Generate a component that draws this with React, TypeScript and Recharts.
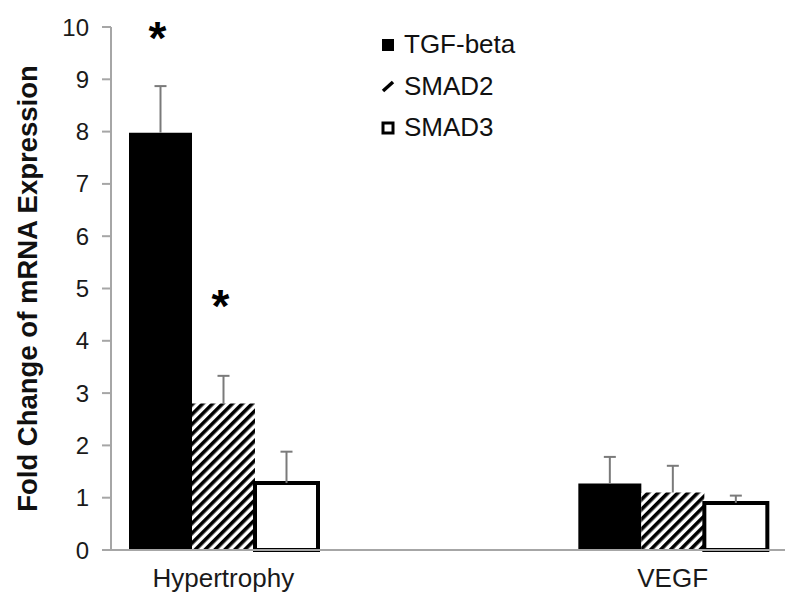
import { BarChart, Bar, XAxis, YAxis, LabelList } from 'recharts'

const FONT = '"Liberation Sans", Arial, sans-serif'

// the gap between the two groups is an empty category, as in the original sheet
const categories = ['Hypertrophy', '', 'VEGF']
const tgfBeta = [7.98, null, 1.27]
const smad2 = [2.8, null, 1.1]
const smad3 = [1.28, null, 0.9]
const tgfBetaErr = [0.89, null, 0.51]
const smad2Err = [0.53, null, 0.51]
const smad3Err = [0.6, null, 0.14]
// height (in fold units) of the significance asterisk, null = none
const tgfBetaStar = [9.9, null, null]
const smad2Star = [4.78, null, null]
const smad3Star = [null, null, null]
const yTicks = [0, 1, 2, 3, 4, 5, 6, 7, 8, 9, 10]

const data = categories.map((name, i) => ({
  name,
  tgf: tgfBeta[i],
  smad2: smad2[i],
  smad3: smad3[i],
}))

const series = [
  { key: 'tgf', name: 'TGF-beta', fill: '#000', stroke: 'none', values: tgfBeta, err: tgfBetaErr, star: tgfBetaStar },
  { key: 'smad2', name: 'SMAD2', fill: 'url(#hatch)', stroke: 'none', values: smad2, err: smad2Err, star: smad2Star },
  { key: 'smad3', name: 'SMAD3', fill: '#fff', stroke: '#000', values: smad3, err: smad3Err, star: smad3Star },
]

// upper error whisker + asterisk, placed from the bar's own geometry
const makeMarks = (values: (number | null)[], err: (number | null)[], star: (number | null)[]) => (props: any) => {
  const { x, y, width, height, value } = props
  if (value == null || !value) return null
  const i = values.indexOf(value)
  if (i < 0) return null
  const ppu = height / value
  const cx = x + width / 2
  const e = err[i]
  const s = star[i]
  const base = y + height
  return (
    <g>
      {e != null && (
        <g stroke="#7a7a7a" strokeWidth={2}>
          <line x1={cx} x2={cx} y1={y} y2={y - e * ppu} />
          <line x1={cx - 6} x2={cx + 6} y1={y - e * ppu} y2={y - e * ppu} />
        </g>
      )}
      {s != null && (
        <text
          x={cx - 3}
          y={base - s * ppu + 22}
          textAnchor="middle"
          fontFamily={FONT}
          fontWeight="bold"
          fontSize={46}
          fill="#000"
        >
          *
        </text>
      )}
    </g>
  )
}

const LegendIcon = ({ k }: { k: string }) => (
  <svg width={14} height={14} style={{ display: 'block' }}>
    {k === 'tgf' && <rect x={1} y={1} width={12} height={12} fill="#000" />}
    {k === 'smad2' && <line x1={2} y1={12} x2={12} y2={3} stroke="#000" strokeWidth={3.5} />}
    {k === 'smad3' && <rect x={2} y={2} width={10} height={10} fill="#fff" stroke="#000" strokeWidth={3} />}
  </svg>
)

export default function App() {
  return (
    <div style={{ position: 'absolute', left: 0, top: 0, width: 800, height: 616, background: '#fff' }}>
      <BarChart
        width={800}
        height={616}
        data={data}
        margin={{ top: 27, right: 15, bottom: 36, left: 0 }}
        barGap={0}
        barSize={63}
      >
        <defs>
          <pattern id="hatch" patternUnits="userSpaceOnUse" width={7} height={7} patternTransform="rotate(45)">
            <rect x={0} y={0} width={7} height={7} fill="#fff" />
            <rect x={0} y={0} width={3.6} height={7} fill="#000" />
          </pattern>
        </defs>
        <XAxis
          dataKey="name"
          tickLine={false}
          axisLine={{ stroke: '#a6a6a6', strokeWidth: 2 }}
          tick={{ fill: '#1a1a1a', fontSize: 26, fontFamily: FONT }}
          tickMargin={13}
          height={30}
        />
        <YAxis
          domain={[0, 10]}
          ticks={yTicks}
          interval={0}
          width={111}
          tickSize={9}
          tickMargin={13}
          axisLine={{ stroke: '#a6a6a6', strokeWidth: 2 }}
          tickLine={{ stroke: '#a6a6a6', strokeWidth: 2 }}
          tick={{ fill: '#1a1a1a', fontSize: 24, fontFamily: FONT }}
          label={{
            value: 'Fold Change of mRNA Expression',
            angle: -90,
            position: 'insideLeft',
            offset: 27,
            style: { textAnchor: 'middle', fontFamily: FONT, fontWeight: 'bold', fontSize: 27.5, fill: '#111' },
          }}
        />
        {series.map((s) => (
          <Bar
            key={s.key}
            dataKey={s.key}
            name={s.name}
            fill={s.fill}
            stroke={s.stroke}
            strokeWidth={s.stroke === 'none' ? 0 : 4}
            isAnimationActive={false}
          >
            <LabelList dataKey={s.key} content={makeMarks(s.values, s.err, s.star)} />
          </Bar>
        ))}
      </BarChart>
      <div style={{ position: 'absolute', top: 24, left: 381, fontFamily: FONT, fontSize: 26, color: '#111' }}>
        {series.map((s) => (
          <div key={s.key} style={{ display: 'flex', alignItems: 'center', height: 41.5 }}>
            <div style={{ width: 23 }}>
              <LegendIcon k={s.key} />
            </div>
            <span>{s.name}</span>
          </div>
        ))}
      </div>
    </div>
  )
}
